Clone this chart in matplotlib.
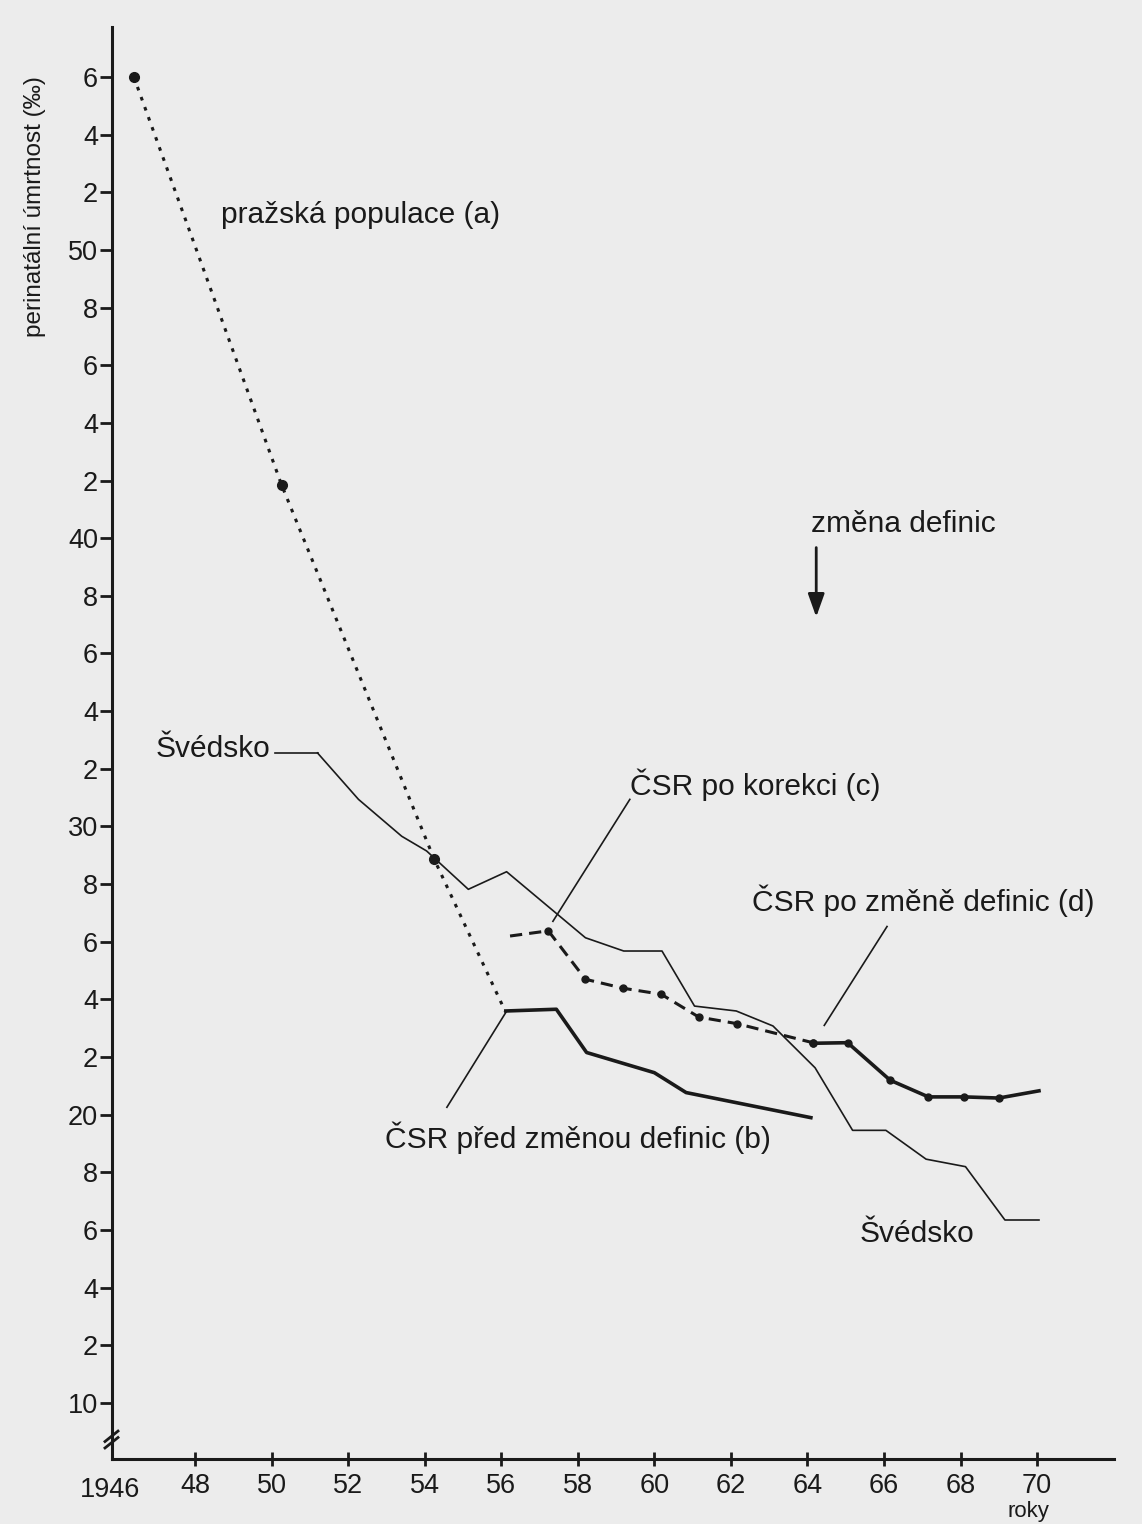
import matplotlib
matplotlib.use("Agg")
import matplotlib.pyplot as plt

plt.rcParams["font.family"] = ["Liberation Sans", "DejaVu Sans"]

_BG = "#ececec"
_INK = "#1a1a1a"

# pražská populace (a)
praha_x = [1946.4, 1950.26, 1954.25, 1956.1]
praha_y = [56.0, 41.85, 28.86, 23.6]

# Švédsko
sw_x = [1951.2, 1952.27, 1953.4, 1954.05, 1955.14, 1956.14, 1958.2, 1959.2, 1960.2,
        1961.05, 1962.14, 1963.1, 1964.2, 1965.18, 1966.05, 1967.1, 1968.13, 1969.16, 1970.05]
sw_y = [32.55, 30.94, 29.66, 29.15, 27.82, 28.43, 26.14, 25.68, 25.68,
        23.77, 23.6, 23.08, 21.63, 19.46, 19.46, 18.46, 18.2, 16.35, 16.35]

# ČSR před změnou definic (b)
b_x = [1956.12, 1957.44, 1958.23, 1960.0, 1960.83, 1964.09]
b_y = [23.6, 23.66, 22.16, 21.46, 20.77, 19.9]

# ČSR po korekci (c)
c_x = [1956.23, 1957.23, 1958.2, 1959.18, 1960.18, 1961.16, 1962.16, 1964.14]
c_y = [26.2, 26.38, 24.7, 24.39, 24.18, 23.39, 23.16, 22.5]

# ČSR po změně definic (d)
d_x = [1964.14, 1965.05, 1966.16, 1967.16, 1968.1, 1969.0, 1970.05]
d_y = [22.48, 22.5, 21.2, 20.62, 20.62, 20.58, 20.83]

y_ticks = list(range(10, 57, 2))
y_labels = [str(v) if v % 10 == 0 else str(v % 10) for v in y_ticks]
x_ticks = list(range(1948, 1971, 2))
x_labels = [str(v)[2:] for v in x_ticks]

fig = plt.figure(figsize=(11.42, 15.24), dpi=100)
fig.patch.set_facecolor(_BG)
ax = fig.add_axes([0.09807, 0.04265, 0.87741, 0.93963])
ax.set_facecolor("none")
ax.set_xlim(1945.83, 1972.01)
ax.set_ylim(8.06, 57.73)

ax.plot(praha_x, praha_y, color=_INK, lw=2.2, linestyle=(0, (1.2, 2.3)), zorder=3)
ax.plot(praha_x[:3], praha_y[:3], "o", color=_INK, ms=7, zorder=4)

ax.plot(sw_x, sw_y, color=_INK, lw=1.2, zorder=2)

ax.plot(b_x, b_y, color=_INK, lw=2.6, zorder=3)

ax.plot(c_x, c_y, color=_INK, lw=2.2, linestyle=(0, (4, 2.3)), zorder=3)
ax.plot(c_x[1:], c_y[1:], "o", color=_INK, ms=5, zorder=4)

ax.plot(d_x, d_y, color=_INK, lw=2.6, zorder=3)
ax.plot(d_x[:-1], d_y[:-1], "o", color=_INK, ms=5, zorder=4)

# labels and leader lines
fs = 21.5
ax.text(1948.67, 51.2, "pražská populace (a)", fontsize=fs, va="center", color=_INK)
ax.text(1964.1, 40.5, "změna definic", fontsize=fs, va="center", color=_INK)
ax.annotate("", xy=(1964.23, 37.17), xytext=(1964.23, 39.77),
            arrowprops=dict(arrowstyle="-|>,head_length=1.4,head_width=0.5",
                            color=_INK, lw=2))
ax.text(1946.97, 32.67, "Švédsko", fontsize=fs, va="center", color=_INK)
ax.plot([1950.1, 1951.2], [32.55, 32.55], color=_INK, lw=1.2)
ax.text(1959.36, 31.46, "ČSR po korekci (c)", fontsize=fs, va="center", color=_INK)
ax.plot([1957.35, 1959.36], [26.71, 30.94], color=_INK, lw=1.2)
ax.text(1962.56, 27.43, "ČSR po změně definic (d)", fontsize=fs, va="center", color=_INK)
ax.plot([1964.44, 1966.08], [23.1, 26.53], color=_INK, lw=1.2)
ax.text(1952.97, 19.19, "ČSR před změnou definic (b)", fontsize=fs, va="center", color=_INK)
ax.plot([1954.58, 1956.12], [20.26, 23.55], color=_INK, lw=1.2)
ax.text(1965.35, 15.86, "Švédsko", fontsize=fs, va="center", color=_INK)

# axes
for side in ("top", "right"):
    ax.spines[side].set_visible(False)
for side in ("left", "bottom"):
    ax.spines[side].set_linewidth(2.2)
    ax.spines[side].set_color(_INK)

ax.set_yticks(y_ticks)
ax.set_yticklabels(y_labels)
ax.set_xticks(x_ticks)
ax.set_xticklabels(x_labels)
ax.tick_params(axis="y", direction="out", length=9, width=2, labelsize=19.5,
               colors=_INK, pad=1)
ax.tick_params(axis="x", direction="inout", length=10, width=2, labelsize=19.5,
               colors=_INK, pad=5)
ax.text(-0.002, -0.0125, "1946", transform=ax.transAxes, fontsize=19.5,
        ha="center", va="top", color=_INK)
fig.text(1028 / 1142, 1 - 1512 / 1524, "roky", fontsize=16, ha="center",
         va="center", color=_INK)
fig.text(35 / 1142, 1 - 207 / 1524, "perinatální úmrtnost (‰)", rotation=90,
         fontsize=17.5, ha="center", va="center", color=_INK)

# axis break marks
for dy in (0.0, 0.0045):
    ax.plot([-0.007, 0.006], [0.0077 + dy, 0.0150 + dy], transform=ax.transAxes,
            color=_INK, lw=2, clip_on=False)

fig.savefig("out.png", dpi=100, facecolor=_BG)
